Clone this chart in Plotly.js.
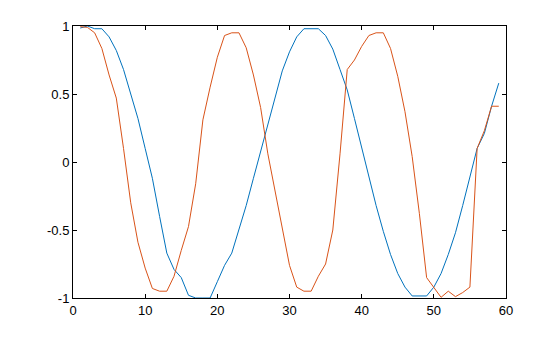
<!DOCTYPE html>
<html>
<head>
<meta charset="utf-8">
<script src="https://cdn.plot.ly/plotly-3.0.1.min.js"></script>
<style>html,body{margin:0;padding:0;background:#fff;}#chart{width:560px;height:337px;}</style>
</head>
<body>
<div id="chart"></div>
<script>
const xValues = [1,2,3,4,5,6,7,8,9,10,11,12,13,14,15,16,17,18,19,20,21,22,23,24,25,26,27,28,29,30,31,32,33,34,35,36,37,38,39,40,41,42,43,44,45,46,47,48,49,50,51,52,53,54,55,56,57,58,59];
const blueSeries = [0.985,1.0,0.98,0.98,0.92,0.82,0.68,0.50,0.32,0.10,-0.12,-0.40,-0.67,-0.79,-0.85,-0.98,-1.0,-1.0,-1.0,-0.88,-0.76,-0.67,-0.50,-0.32,-0.12,0.08,0.29,0.48,0.67,0.81,0.92,0.98,0.98,0.98,0.93,0.83,0.68,0.53,0.32,0.10,-0.11,-0.32,-0.51,-0.68,-0.82,-0.92,-0.985,-0.985,-0.985,-0.92,-0.82,-0.68,-0.52,-0.32,-0.11,0.10,0.21,0.41,0.58];
const orangeSeries = [0.995,0.99,0.95,0.835,0.64,0.47,0.10,-0.30,-0.59,-0.78,-0.93,-0.95,-0.95,-0.84,-0.65,-0.475,-0.16,0.31,0.55,0.77,0.93,0.95,0.95,0.84,0.64,0.40,0.06,-0.22,-0.50,-0.76,-0.92,-0.95,-0.95,-0.84,-0.75,-0.50,0.06,0.68,0.75,0.85,0.93,0.95,0.95,0.835,0.63,0.37,0.04,-0.38,-0.85,-0.92,-0.995,-0.95,-0.99,-0.96,-0.92,0.10,0.23,0.41,0.41];
const xTickVals = [0,10,20,30,40,50,60];
const xTickText = ["0","10","20","30","40","50","60"];
const yTickVals = [-1,-0.5,0,0.5,1];
const yTickText = ["-1","-0.5","0","0.5","1"];

const traces = [
  {x: xValues, y: blueSeries, type: 'scatter', mode: 'lines', line: {color: '#0072BD', width: 1}, hoverinfo: 'skip'},
  {x: xValues, y: orangeSeries, type: 'scatter', mode: 'lines', line: {color: '#D95319', width: 1}, hoverinfo: 'skip'}
];
const axisCommon = {
  showgrid: false, zeroline: false, showline: true, linecolor: '#000', linewidth: 1,
  mirror: 'ticks', ticks: 'inside', ticklen: 4, tickcolor: '#000', tickwidth: 1,
  tickfont: {family: 'Liberation Sans, Arial, sans-serif', size: 13, color: '#000'}
};
const layout = {
  width: 560, height: 337,
  margin: {l: 73, r: 54, t: 26, b: 39, pad: 0},
  paper_bgcolor: '#fff', plot_bgcolor: '#fff',
  showlegend: false,
  xaxis: Object.assign({}, axisCommon, {range: [0, 60], tickmode: 'array', tickvals: xTickVals, ticktext: xTickText}),
  yaxis: Object.assign({}, axisCommon, {range: [-1, 1], tickmode: 'array', tickvals: yTickVals, ticktext: yTickText})
};
Plotly.newPlot('chart', traces, layout, {staticPlot: true, displayModeBar: false});
</script>
</body>
</html>
